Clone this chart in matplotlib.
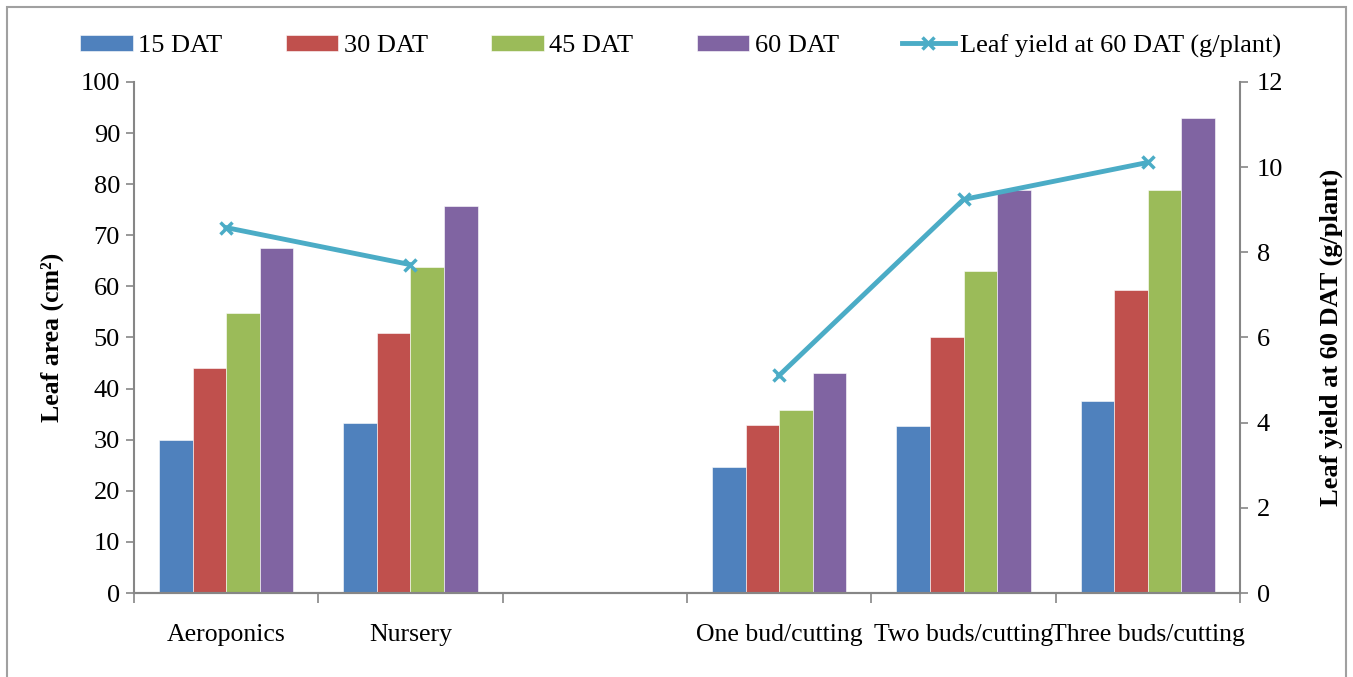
import numpy as np
import matplotlib.pyplot as plt
from matplotlib.patches import Rectangle

# ---------- data ----------
categories = ["Aeroponics", "Nursery", "", "One bud/cutting",
              "Two buds/cutting", "Three buds/cutting"]
dat15 = [29.9, 33.3, np.nan, 24.7, 32.6, 37.6]
dat30 = [44.1, 50.8, np.nan, 32.8, 50.1, 59.2]
dat45 = [54.7, 63.7, np.nan, 35.9, 63.0, 78.9]
dat60 = [67.5, 75.7, np.nan, 43.1, 78.9, 93.0]
leaf_yield = [8.58, 7.71, np.nan, 5.11, 9.24, 10.11]

series = [("15 DAT", dat15, "#4F81BD"),
          ("30 DAT", dat30, "#C0504D"),
          ("45 DAT", dat45, "#9BBB59"),
          ("60 DAT", dat60, "#8064A2")]
line_color = "#4BACC6"
grey = "#868686"

plt.rcParams['font.family'] = ['Liberation Serif', 'DejaVu Serif']

fig = plt.figure(figsize=(13.53, 6.77), dpi=100)
ax = fig.add_axes([0.099, 0.124, 0.8175, 0.755])
ax2 = ax.twinx()

x = np.arange(len(categories))
bw = 1 / 5.5
for i, (name, vals, col) in enumerate(series):
    ax.bar(x + (i - 1.5) * bw, vals, width=bw, color=col,
           edgecolor='white', linewidth=0.4, label=name, zorder=2)

ax2.plot(x, leaf_yield, color=line_color, lw=3.5, marker='x', ms=9,
         mew=2.5, mec=line_color, label="Leaf yield at 60 DAT (g/plant)",
         zorder=3)

ax.set_xlim(-0.5, len(categories) - 0.5)
ax.set_ylim(0, 100)
ax2.set_ylim(0, 12)
ax.set_yticks(np.arange(0, 101, 10))
ax2.set_yticks(np.arange(0, 13, 2))

# category boundaries as major ticks, labels at centres
ax.set_xticks(np.arange(-0.5, len(categories), 1))
ax.set_xticklabels([])
ax.set_xticks(x, minor=True)
ax.set_xticklabels(categories, minor=True)
ax.tick_params(axis='x', which='major', length=7, width=1.2, color=grey)
ax.tick_params(axis='x', which='minor', length=0, pad=22, labelsize=18.5)

ax.tick_params(axis='y', length=6, width=1.2, color=grey, labelsize=19, pad=4)
ax2.tick_params(axis='y', length=6, width=1.2, color=grey, labelsize=19, pad=6)

for a in (ax, ax2):
    a.spines['top'].set_visible(False)
    for s in ('left', 'right', 'bottom'):
        a.spines[s].set_color(grey)
        a.spines[s].set_linewidth(1.5)
ax.spines['right'].set_visible(False)
ax2.spines['left'].set_visible(False)

ax.set_ylabel("Leaf area (cm²)", fontsize=18.5, fontweight='bold',
              labelpad=12)
ax2.set_ylabel("Leaf yield at 60 DAT (g/plant)", fontsize=19,
               fontweight='bold', labelpad=26)

h1, l1 = ax.get_legend_handles_labels()
h2, l2 = ax2.get_legend_handles_labels()
fig.legend(h1 + h2, l1 + l2, loc='center', bbox_to_anchor=(0.503, 0.932),
           ncol=5, frameon=False, fontsize=19, handlelength=2.0,
           handleheight=0.6, handletextpad=0.2, columnspacing=2.4)

# outer chart frame
fig.patches.append(Rectangle((0.005, -0.05), 0.99, 1.04,
                             transform=fig.transFigure, fill=False,
                             edgecolor='#A0A0A0', linewidth=1.5))

fig.savefig("out.png", dpi=100)
